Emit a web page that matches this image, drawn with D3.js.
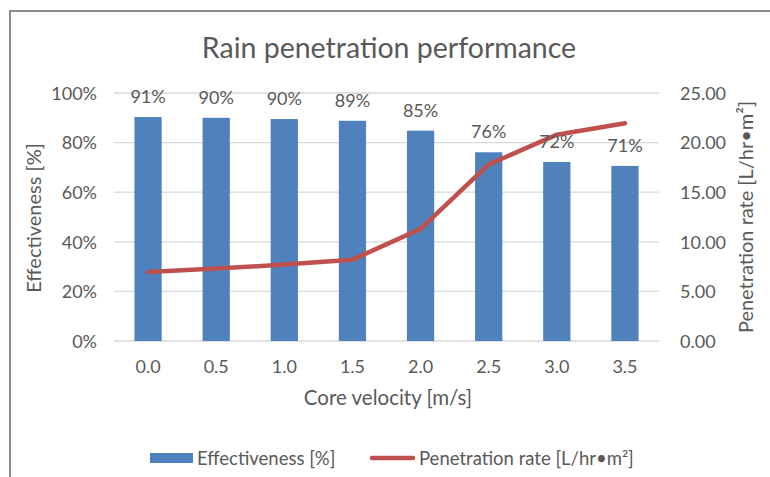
<!DOCTYPE html>
<html><head><meta charset="utf-8">
<script src="https://cdn.jsdelivr.net/npm/d3@7"></script>
<style>body{margin:0;background:#fff}svg{display:block}text{font-family:Lato,"Open Sans",sans-serif;fill:#595959}</style>
</head><body><svg id="c" width="770" height="477"></svg>
<script>
const categories = ["0.0","0.5","1.0","1.5","2.0","2.5","3.0","3.5"];
const effectiveness = [0.903, 0.900, 0.895, 0.888, 0.848, 0.761, 0.722, 0.706];
const effectivenessLabels = ["91%","90%","90%","89%","85%","76%","72%","71%"];
const penetration = [6.95, 7.3, 7.7, 8.2, 11.3, 17.8, 20.8, 21.95];
const leftTicks = [0,0.2,0.4,0.6,0.8,1.0];
const rightTicks = [0,5,10,15,20,25];

const svg = d3.select("#c");
const m = {l:114, r:659, t:93, b:341};
const x = d3.scaleBand().domain(categories).range([m.l,m.r]).paddingInner(0.6).paddingOuter(0.3);
const xc = d => x(d)+x.bandwidth()/2;
const yL = d3.scaleLinear().domain([0,1]).range([m.b,m.t]);
const yR = d3.scaleLinear().domain([0,25]).range([m.b,m.t]);

// border
svg.append("path").attr("d","M10,480V11H775").attr("fill","none").attr("stroke","#8c8c8c").attr("stroke-width",2);

// title
svg.append("text").attr("x",389).attr("y",58).attr("text-anchor","middle").style("font-size","28.5px").text("Rain penetration performance");

// gridlines
svg.append("g").selectAll("line").data(leftTicks).join("line")
  .attr("x1",m.l).attr("x2",m.r).attr("y1",d=>yL(d)).attr("y2",d=>yL(d))
  .attr("stroke","#d9d9d9").attr("stroke-width",1.3);

// left axis
const la = svg.append("g").attr("transform",`translate(${m.l-17},0)`)
  .call(d3.axisLeft(yL).tickValues(leftTicks).tickFormat(d3.format(".0%")).tickSize(0).tickPadding(0));
la.select(".domain").remove();
la.selectAll("text").style("font-size","18px").attr("fill","#595959").attr("dy","0.35em");

// right axis
const ra = svg.append("g").attr("transform",`translate(${m.r+21},0)`)
  .call(d3.axisRight(yR).tickValues(rightTicks).tickFormat(d3.format(".2f")).tickSize(0).tickPadding(0));
ra.select(".domain").remove();
ra.selectAll("text").style("font-size","18px").attr("fill","#595959").attr("dy","0.35em");

// bottom axis
const ba = svg.append("g").attr("transform",`translate(0,${m.b+19})`)
  .call(d3.axisBottom(x).tickSize(0).tickPadding(0));
ba.select(".domain").remove();
ba.selectAll("text").style("font-size","18px").attr("fill","#595959").attr("dy","0.71em");

// axis titles
svg.append("text").attr("transform","translate(41,218) rotate(-90)").attr("text-anchor","middle").style("font-size","20px").text("Effectiveness [%]");
svg.append("text").attr("transform","translate(753,217) rotate(-90)").attr("text-anchor","middle").style("font-size","20px").text("Penetration rate [L/hr•m²]");
svg.append("text").attr("x",388).attr("y",405).attr("text-anchor","middle").style("font-size","20.5px").text("Core velocity [m/s]");

// bars
svg.append("g").selectAll("rect").data(categories).join("rect")
  .attr("x",d=>x(d)).attr("width",x.bandwidth())
  .attr("y",(d,i)=>yL(effectiveness[i])).attr("height",(d,i)=>m.b-yL(effectiveness[i]))
  .attr("fill","#4f81bd");

// line
svg.append("path").datum(penetration)
  .attr("d",d3.line().x((d,i)=>xc(categories[i])).y(d=>yR(d)))
  .attr("fill","none").attr("stroke","#c0504d").attr("stroke-width",4.5).attr("stroke-linecap","round").attr("stroke-linejoin","round");

// data labels
svg.append("g").selectAll("text").data(categories).join("text")
  .attr("x",d=>xc(d)).attr("y",(d,i)=>yL(effectiveness[i])-14)
  .attr("text-anchor","middle").style("font-size","18px").text((d,i)=>effectivenessLabels[i]);

// legend
const lg = svg.append("g");
lg.append("rect").attr("x",150).attr("y",453).attr("width",43).attr("height",10).attr("fill","#4f81bd");
lg.append("text").attr("x",197).attr("y",465).style("font-size","18.5px").text("Effectiveness [%]");
lg.append("line").attr("x1",372).attr("x2",413).attr("y1",458).attr("y2",458).attr("stroke","#c0504d").attr("stroke-width",4.5).attr("stroke-linecap","round");
lg.append("text").attr("x",419).attr("y",465).style("font-size","18.5px").text("Penetration rate [L/hr•m²]");
</script></body></html>
